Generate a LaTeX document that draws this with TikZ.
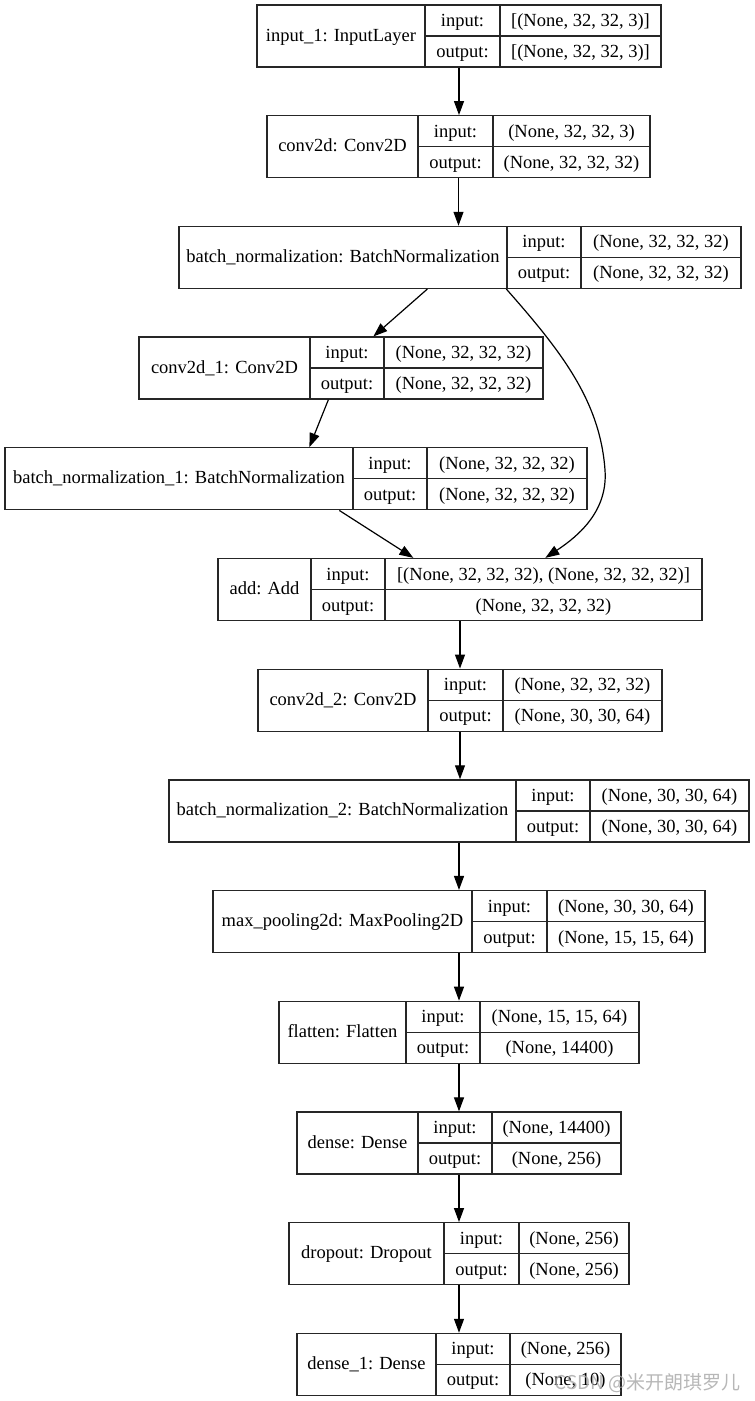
\documentclass[tikz,border=0pt]{standalone}
\usepackage{fontspec}
\setmainfont{Liberation Serif}
\newfontfamily\cjkfont{Noto Sans CJK SC}
\usetikzlibrary{arrows.meta,fit,calc}
\tikzset{
  boxline/.style={draw=black!85, line width=1.3pt},
  txt/.style={inner sep=0pt, anchor=base, font=\fontsize{18.5}{22}\selectfont},
  edge/.style={draw=black, line width=1.2pt, -{Triangle[length=14pt,width=10pt]}},
}
% #1 name, #2 row index, #3 left, #4 divider1, #5 divider2, #6 right, #7 label, #8 input shape, #9 output shape
\newcommand{\layerbox}[9]{%
  \pgfmathsetmacro{\yT}{-(5+110.7*#2)}%
  \pgfmathsetmacro{\yB}{\yT-62}%
  \pgfmathsetmacro{\yM}{\yT-31}%
  \node[boxline, fit={(#3,\yT) (#6,\yB)}, inner sep=0pt] (#1) {};
  \draw[boxline] (#4,\yT) -- (#4,\yB) (#5,\yT) -- (#5,\yB) (#4,\yM) -- (#6,\yM);
  \node[txt] (#1-name) at ({(#3+#4)/2},{\yT-36}) {#7};
  \node[txt] (#1-inl) at ({(#4+#5)/2},{\yT-21.5}) {input:};
  \node[txt] (#1-outl) at ({(#4+#5)/2},{\yT-52.5}) {output:};
  \node[txt] (#1-in) at ({(#5+#6)/2},{\yT-21.5}) {#8};
  \node[txt] (#1-out) at ({(#5+#6)/2},{\yT-52.5}) {#9};
}
\begin{document}
\begin{tikzpicture}[x=1pt,y=1pt]
\useasboundingbox[fill=white] (0,0) rectangle (755,-1401);
\layerbox{L0}{0}{257}{425}{500}{661}{input\_1: InputLayer}{[(None, 32, 32, 3)]}{[(None, 32, 32, 3)]}
\layerbox{L1}{1}{267}{418}{493}{650}{conv2d: Conv2D}{(None, 32, 32, 3)}{(None, 32, 32, 32)}
\layerbox{L2}{2}{179}{507}{581}{741}{batch\_normalization: BatchNormalization}{(None, 32, 32, 32)}{(None, 32, 32, 32)}
\layerbox{L3}{3}{139}{310}{384}{543}{conv2d\_1: Conv2D}{(None, 32, 32, 32)}{(None, 32, 32, 32)}
\layerbox{L4}{4}{5}{353}{427}{587}{batch\_normalization\_1: BatchNormalization}{(None, 32, 32, 32)}{(None, 32, 32, 32)}
\layerbox{L5}{5}{218}{311}{385}{702}{add: Add}{[(None, 32, 32, 32), (None, 32, 32, 32)]}{(None, 32, 32, 32)}
\layerbox{L6}{6}{258}{428}{503}{662}{conv2d\_2: Conv2D}{(None, 32, 32, 32)}{(None, 30, 30, 64)}
\layerbox{L7}{7}{169}{516}{590}{749}{batch\_normalization\_2: BatchNormalization}{(None, 30, 30, 64)}{(None, 30, 30, 64)}
\layerbox{L8}{8}{213}{472}{547}{705}{max\_pooling2d: MaxPooling2D}{(None, 30, 30, 64)}{(None, 15, 15, 64)}
\layerbox{L9}{9}{279}{406}{480}{639}{flatten: Flatten}{(None, 15, 15, 64)}{(None, 14400)}
\layerbox{L10}{10}{297}{418}{492}{621}{dense: Dense}{(None, 14400)}{(None, 256)}
\layerbox{L11}{11}{289}{444}{519}{629}{dropout: Dropout}{(None, 256)}{(None, 256)}
\layerbox{L12}{12}{297}{436}{510}{621}{dense\_1: Dense}{(None, 256)}{(None, 10)}

% straight edges
\draw[edge] (L0.south) -- (L0.south |- L1.north);
\draw[edge] (L1.south) -- (L1.south |- L2.north);
\draw[edge] (L5.south) -- (L5.south |- L6.north);
\draw[edge] (L6.south) -- (L6.south |- L7.north);
\draw[edge] (L7.south) -- (L7.south |- L8.north);
\draw[edge] (L8.south) -- (L8.south |- L9.north);
\draw[edge] (L9.south) -- (L9.south |- L10.north);
\draw[edge] (L10.south) -- (L10.south |- L11.north);
\draw[edge] (L11.south) -- (L11.south |- L12.north);
% diagonal edges
\draw[edge] ([xshift=249pt]L2.south west) -- ([xshift=235pt]L3.north west);
\draw[edge] ([xshift=190pt]L3.south west) -- ([xshift=305pt]L4.north west);
\draw[edge] ([xshift=335pt]L4.south west) -- ([xshift=196pt]L5.north west);
% skip connection
\draw[edge] ([xshift=328pt]L2.south west) .. controls (560,-350) and (600,-400) .. (605,-470)
  .. controls (608,-510) and (580,-535) .. ([xshift=328pt]L5.north west);

% watermark
\node[anchor=base east, inner sep=0pt, text=gray!70, opacity=0.8, font=\cjkfont\fontsize{19}{22}\selectfont] (wm) at (741,-1389) {CSDN @米开朗琪罗儿};
\end{tikzpicture}
\end{document}
